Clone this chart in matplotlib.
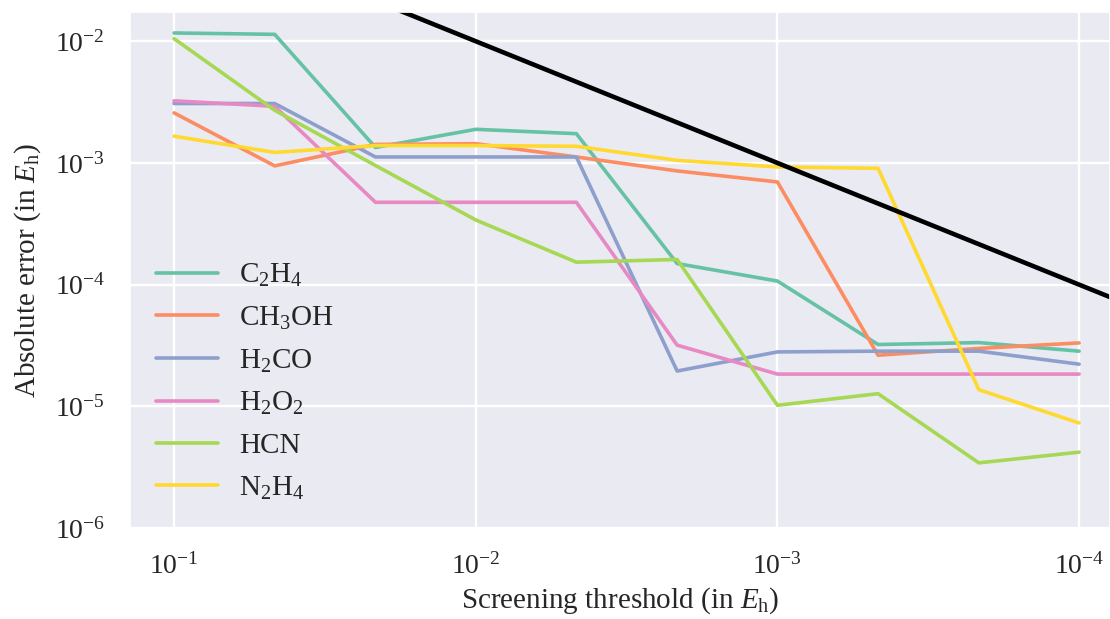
import matplotlib
matplotlib.use("Agg")
import matplotlib.pyplot as plt
import numpy as np
import seaborn as sns

sns.set_theme(style="darkgrid")
plt.rcParams["font.family"] = ["Liberation Serif", "DejaVu Serif"]
plt.rcParams["mathtext.fontset"] = "custom"
plt.rcParams["mathtext.rm"] = "Liberation Serif"
plt.rcParams["mathtext.it"] = "Liberation Serif:italic"
plt.rcParams["mathtext.bf"] = "Liberation Serif:bold"

# screening thresholds (E_h)
thresholds = [1e-1, 4.64e-2, 2.15e-2, 1e-2, 4.64e-3, 2.15e-3, 1e-3, 4.64e-4, 2.15e-4, 1e-4]

molecules = ["C$_2$H$_4$", "CH$_3$OH", "H$_2$CO", "H$_2$O$_2$", "HCN", "N$_2$H$_4$"]

err_c2h4 = [1.17e-2, 1.14e-2, 1.34e-3, 1.89e-3, 1.74e-3, 1.49e-4, 1.07e-4, 3.22e-5, 3.34e-5, 2.84e-5]
err_ch3oh = [2.58e-3, 9.46e-4, 1.42e-3, 1.44e-3, 1.12e-3, 8.6e-4, 6.98e-4, 2.63e-5, 2.99e-5, 3.32e-5]
err_h2co = [3.08e-3, 3.08e-3, 1.12e-3, 1.12e-3, 1.12e-3, 1.95e-5, 2.80e-5, 2.84e-5, 2.84e-5, 2.22e-5]
err_h2o2 = [3.24e-3, 2.92e-3, 4.75e-4, 4.75e-4, 4.75e-4, 3.18e-5, 1.84e-5, 1.84e-5, 1.84e-5, 1.84e-5]
err_hcn = [1.05e-2, 2.71e-3, 9.53e-4, 3.4e-4, 1.53e-4, 1.61e-4, 1.02e-5, 1.27e-5, 3.43e-6, 4.2e-6]
err_n2h4 = [1.66e-3, 1.22e-3, 1.39e-3, 1.39e-3, 1.37e-3, 1.05e-3, 9.27e-4, 9.04e-4, 1.37e-5, 7.3e-6]

errors = [err_c2h4, err_ch3oh, err_h2co, err_h2o2, err_hcn, err_n2h4]

fig = plt.figure(figsize=(11.1, 6.19), dpi=100)
ax = fig.add_axes([130 / 1110, 1 - 528 / 619, 980 / 1110, 516 / 619])

colors = sns.color_palette("Set2", 6)
for name, err, c in zip(molecules, errors, colors):
    ax.plot(thresholds, err, color=c, lw=2.6, label=name)

# error == threshold reference line
ref = np.array([1.0, 1e-5])
ax.plot(ref, ref, color="black", lw=3.3)

ax.set_xscale("log")
ax.set_yscale("log")
ax.set_xlim(0.14, 7.9e-5)
ax.set_ylim(1e-6, 1.74e-2)
ax.set_xticks([1e-1, 1e-2, 1e-3, 1e-4])
ax.set_yticks([1e-6, 1e-5, 1e-4, 1e-3, 1e-2])
ax.minorticks_off()
ax.tick_params(labelsize=20, colors="#262626", pad=12)
ax.grid(True, color="white", lw=1.7)

ax.set_xlabel("Screening threshold (in $E_\\mathrm{h}$)", fontsize=21, color="#262626", labelpad=4)
ax.set_ylabel("Absolute error (in $E_\\mathrm{h}$)", fontsize=21, color="#262626", labelpad=8)

leg = ax.legend(loc="lower left", bbox_to_anchor=(0.0, 0.0), frameon=False,
                fontsize=21, handlelength=2.1, handletextpad=0.75,
                labelspacing=0.53, borderaxespad=0.5)
for t in leg.get_texts():
    t.set_color("#262626")

fig.savefig("out.png", dpi=100)
